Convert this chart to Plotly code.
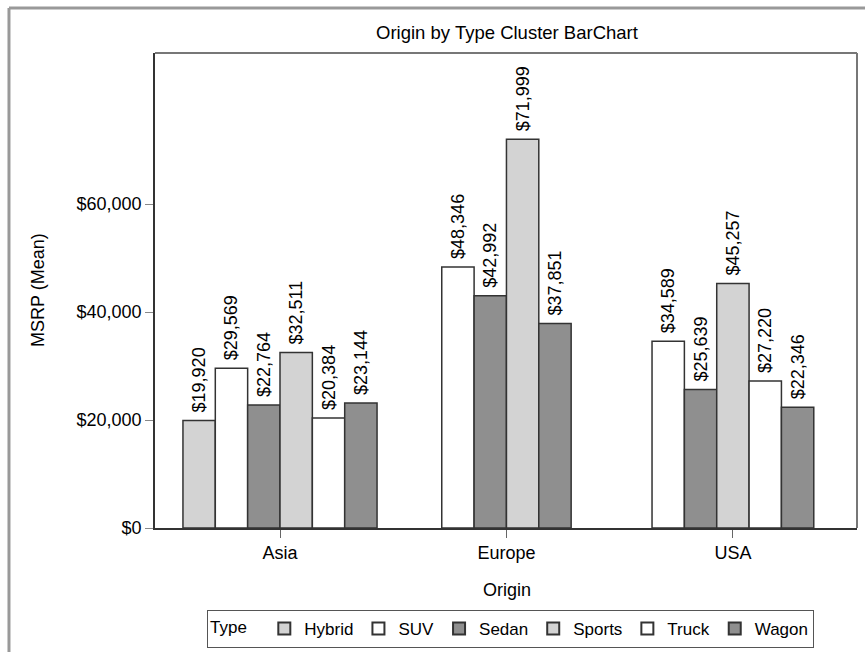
import plotly.graph_objects as go

origins = ["Asia", "Europe", "USA"]
types = ["Hybrid", "SUV", "Sedan", "Sports", "Truck", "Wagon"]
msrp_hybrid = [19920, None, None]
msrp_suv = [29569, 48346, 34589]
msrp_sedan = [22764, 42992, 25639]
msrp_sports = [32511, 71999, 45257]
msrp_truck = [20384, None, 27220]
msrp_wagon = [23144, 37851, 22346]
y_ticks = [0, 20000, 40000, 60000]
y_ticktext = ["$0", "$20,000", "$40,000", "$60,000"]

series = [msrp_hybrid, msrp_suv, msrp_sedan, msrp_sports, msrp_truck, msrp_wagon]
fills = ["#d3d3d3", "#ffffff", "#8f8f8f", "#d3d3d3", "#ffffff", "#8f8f8f"]

FONT = "Liberation Sans, Arial, sans-serif"
W = 1 / 7  # bar width in category units

# centered clusters: only present types occupy slots
positions = {}
for i, o in enumerate(origins):
    present = [t for t, s in zip(types, series) if s[i] is not None]
    n = len(present)
    for k, t in enumerate(present):
        positions[(t, i)] = i + (k - (n - 1) / 2) * W

fig = go.Figure()
for t, s, c in zip(types, series, fills):
    xs, ys = [], []
    for i, v in enumerate(s):
        if v is None:
            continue
        xs.append(positions[(t, i)])
        ys.append(v)
    fig.add_trace(go.Bar(
        x=xs, y=ys, name=t, width=W,
        marker=dict(color=c, line=dict(color="#333333", width=1.5)),
        text=ys, texttemplate="\u00a0$%{y:,.0f}", textposition="outside",
        textangle=-90, cliponaxis=False, constraintext="none",
        textfont=dict(family=FONT, size=18, color="#000"),
    ))

fig.update_layout(
    width=865, height=652,
    margin=dict(l=155, r=8, t=53, b=124),
    paper_bgcolor="white", plot_bgcolor="white",
    font=dict(family=FONT, size=18, color="#000"),
    showlegend=True,
    barmode="overlay",
    title=dict(text="Origin by Type Cluster BarChart", x=0.5014, xref="paper",
               y=1 - 33 / 652, yanchor="middle",
               font=dict(family=FONT, size=18.5, color="#000")),
    xaxis=dict(range=[-0.552, 2.548], tickvals=[0, 1, 2], ticktext=origins,
               showgrid=False, zeroline=False, showline=True, linecolor="#333",
               linewidth=1.5, ticks="outside", ticklen=8, tickcolor="#666",
               tickfont=dict(family=FONT, size=18, color="#000")),
    yaxis=dict(range=[0, 87963], tickvals=y_ticks, ticktext=y_ticktext,
               showgrid=False, zeroline=False, showline=True, linecolor="#333",
               linewidth=1.5, ticks="outside", ticklen=8, tickcolor="#888",
               tickfont=dict(family=FONT, size=18, color="#000")),
    legend=dict(orientation="h", xref="container", yref="container",
                x=510.5 / 865, xanchor="center", y=1 - 629 / 652, yanchor="middle",
                bordercolor="#555", borderwidth=1, bgcolor="white",
                title=dict(text="Type  ", font=dict(family=FONT, size=17)),
                font=dict(family=FONT, size=17, color="#000"),
                traceorder="normal", itemsizing="constant"),
    annotations=[
        dict(text="MSRP (Mean)", xref="paper", yref="paper", x=-0.1667, y=0.501,
             textangle=-90, showarrow=False, xanchor="center", yanchor="middle",
             font=dict(family=FONT, size=18, color="#000")),
        dict(text="Origin", xref="paper", yref="paper", x=0.5014, y=-0.1305,
             showarrow=False, xanchor="center", yanchor="middle",
             font=dict(family=FONT, size=18, color="#000")),
    ],
    shapes=[
        # plot frame top/right
        dict(type="line", xref="paper", yref="paper", x0=0, x1=1, y0=1, y1=1,
             line=dict(color="#777", width=2)),
        dict(type="line", xref="paper", yref="paper", x0=1, x1=1, y0=0, y1=1,
             line=dict(color="#777", width=2)),
        # outer frame
        dict(type="line", xref="paper", yref="paper", x0=-0.208, x1=1.02,
             y0=1.0947, y1=1.0947, line=dict(color="#999", width=3)),
        dict(type="line", xref="paper", yref="paper", x0=-0.208, x1=-0.208,
             y0=1.0947, y1=-0.28, line=dict(color="#999", width=3)),
    ],
)

fig.write_html("out.html", config={"displayModeBar": False},
               post_script="document.body.style.margin='0';document.body.style.overflow='hidden';")
